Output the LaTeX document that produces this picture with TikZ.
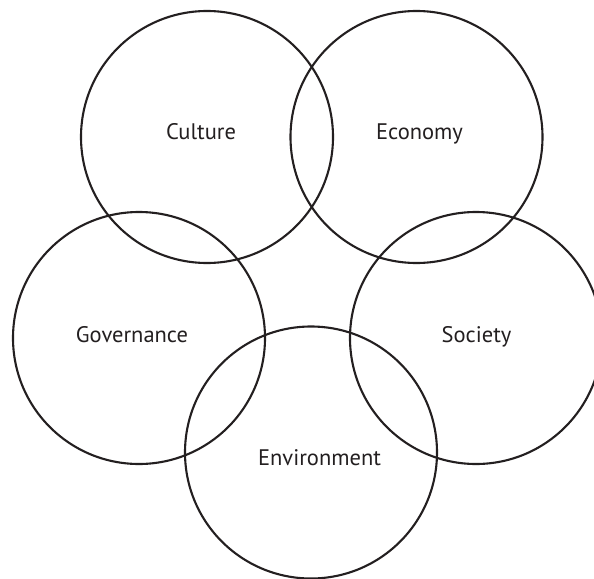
\documentclass[tikz,border=0pt]{standalone}
\usepackage{fontspec}
\setmainfont{PT Sans}
\definecolor{ink}{HTML}{231F20}
\begin{document}
\begin{tikzpicture}[x=1pt,y=-1pt,
  ring/.style={circle,draw=ink,line width=2.1pt,minimum size=252pt,inner sep=0pt},
  lbl/.style={anchor=base,text=ink,font=\fontsize{22.5}{26}\selectfont,inner sep=0pt}]
\useasboundingbox (0,0) rectangle (594,578);
\clip (0,0) rectangle (594,578);
\node[ring] (culture) at (207,137) {};
\node[ring] (economy) at (416.5,137) {};
\node[ring] (governance) at (139,338) {};
\node[ring] (society) at (476,338) {};
\node[ring] (environment) at (311,452.5) {};
\node[lbl] (tculture) at (201,139.5) {Culture};
\node[lbl] (teconomy) at (419.5,139.5) {Economy};
\node[lbl] (tgovernance) at (132,342.5) {Governance};
\node[lbl] (tsociety) at (476.5,342.5) {Society};
\node[lbl] (tenvironment) at (319.5,465) {Environment};
\end{tikzpicture}
\end{document}
